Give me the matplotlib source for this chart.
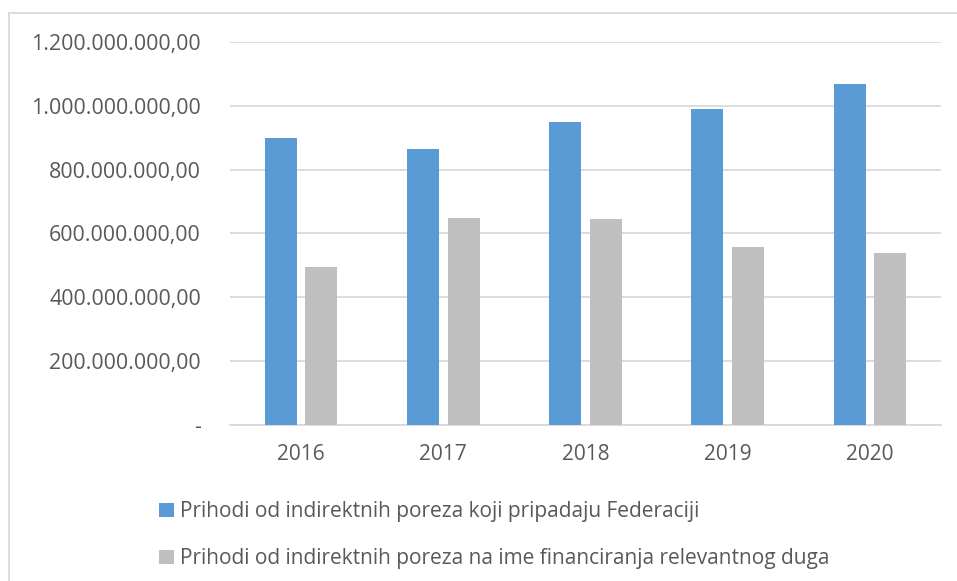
import matplotlib.pyplot as plt
import numpy as np
from matplotlib.patches import Rectangle
from matplotlib.ticker import FuncFormatter

years = ["2016", "2017", "2018", "2019", "2020"]
federacija = [898e6, 864e6, 948e6, 989e6, 1068e6]
relevantni_dug = [496e6, 648e6, 644e6, 558e6, 538e6]
labels = [
    "Prihodi od indirektnih poreza koji pripadaju Federaciji",
    "Prihodi od indirektnih poreza na ime financiranja relevantnog duga",
]

BLUE = "#5B9BD5"
GRAY = "#BFBFBF"
GRID = "#D9D9D9"
TEXT = "#595959"

plt.rcParams["font.family"] = ["Open Sans", "DejaVu Sans"]


def _fmt(v, _pos):
    if v == 0:
        return "-"
    s = f"{v:,.2f}"
    return s.replace(",", "X").replace(".", ",").replace("X", ".")


W, H = 957, 581
fig = plt.figure(figsize=(W / 100, H / 100), dpi=100)
ax = fig.add_axes([230 / W, (H - 425) / H, (941 - 230) / W, (425 - 42) / H])

x = np.arange(len(years))
bw = 0.225
b1 = ax.bar(x - 0.143, federacija, bw, color=BLUE, zorder=3)
b2 = ax.bar(x + 0.143, relevantni_dug, bw, color=GRAY, zorder=3)

ax.set_xlim(-0.5, len(years) - 0.5)
ax.set_ylim(0, 1.2e9)
ax.set_yticks(np.arange(0, 1.2e9 + 1, 2e8))
ax.yaxis.set_major_formatter(FuncFormatter(_fmt))
ax.set_xticks(x)
ax.set_xticklabels(years)
ax.grid(True, axis="y", color=GRID, linewidth=1.3, zorder=0)
for side in ("top", "right", "left"):
    ax.spines[side].set_visible(False)
ax.spines["bottom"].set_color(GRID)
ax.spines["bottom"].set_linewidth(1.3)
ax.tick_params(axis="y", length=0, pad=21, labelsize=15.4, labelcolor=TEXT)
ax.tick_params(axis="x", length=0, pad=14, labelsize=15, labelcolor=TEXT)

leg = fig.legend(
    [b1, b2],
    labels,
    loc="upper left",
    bbox_to_anchor=(151 / W, (H - 493) / H),
    frameon=False,
    fontsize=15,
    labelcolor=TEXT,
    handlelength=0.7,
    handleheight=0.7,
    handletextpad=0.29,
    labelspacing=1.24,
    borderaxespad=0,
)

fig.patches.append(
    Rectangle((9 / W, -0.1), 1.2, (H - 13) / H + 0.1, transform=fig.transFigure,
              fill=False, edgecolor=GRID, linewidth=1.3)
)

fig.savefig("out.png", dpi=100)
